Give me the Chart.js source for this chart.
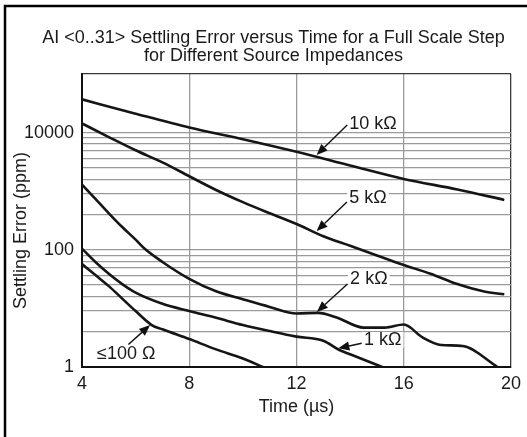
<html>
<head>
  <title>AI Settling Error</title>
  <script src="https://cdn.jsdelivr.net/npm/chart.js"></script>
  <style>
    body { margin: 0; background: #fff; }
    #wrap { width: 527px; height: 437px; }
  </style>
</head>
<body>
  <div id="wrap"><canvas id="myChart" width="527" height="437"></canvas></div>
  <script>
    // 各曲線的時間 (us) 與誤差 (ppm)
    const t10k = [4, 6, 8, 10, 12, 14, 16, 18, 19.75];
    const ppm10k = [37000, 21000, 12200, 7700, 4700, 2750, 1620, 1070, 710];

    const t5k = [4, 5, 6, 7, 8, 9, 10, 11, 12, 13, 14, 15, 16, 17, 18, 19, 19.75];
    const ppm5k = [14300, 8400, 5000, 3100, 1800, 1050, 650, 420, 276, 170, 117, 80, 55, 39, 26, 19.4, 17.4];

    const t2k = [4, 4.5, 5, 5.5, 6, 6.34, 7, 8, 9, 10, 11, 12, 12.8, 13.5, 14.5, 15.3, 16, 16.7, 17.4, 18.2, 19.5];
    const ppm2k = [1300, 740, 420, 245, 149, 104, 62, 32, 19.6, 14.3, 10.6, 8.2, 8.4, 7.0, 4.7, 4.7, 5.3, 3.2, 2.37, 2.28, 1.0];

    const t1k = [4, 4.5, 5, 5.5, 6, 7, 8, 9, 10, 11, 12, 13, 13.6, 14, 15.2];
    const ppm1k = [105, 62, 39, 26, 18.6, 12, 9, 6.9, 5.2, 4.1, 3.3, 2.8, 1.95, 1.65, 1.0];

    const t100 = [4, 4.5, 5, 5.5, 6, 6.6, 7, 8, 9, 10, 10.75];
    const ppm100 = [57, 37, 24, 14.7, 9.0, 5.2, 4.4, 3.0, 2.0, 1.4, 1.0];

    // 軸的刻度
    const xTicks = [4, 8, 12, 16, 20];
    const yGrid = [1, 4, 9, 16, 25, 36, 49, 64, 81, 100, 400, 900, 1600, 2500, 3600, 4900, 6400, 8100, 10000, 100000];
    const yLabels = [1, 100, 10000];

    // 曲線標籤與箭頭 (資料座標)
    const notes = [
      { text: '10 k\u03A9', tx: 13.97, ty: 14000, ax: 13.89, ay: 13500, px: 12.75, py: 4150 },
      { text: '5 k\u03A9', tx: 13.97, ty: 765, ax: 13.88, ay: 655, px: 12.75, py: 209 },
      { text: '2 k\u03A9', tx: 14.0, ty: 31.8, ax: 13.9, ay: 26, px: 12.76, py: 8.7 },
      { text: '1 k\u03A9', tx: 14.52, ty: 2.89, ax: 14.43, ay: 2.54, px: 13.56, py: 2.08 },
      { text: '\u2264100 \u03A9', tx: 4.56, ty: 1.67, ax: 5.73, ay: 2.42, px: 6.54, py: 5.2 }
    ];

    const FONT = "'Liberation Sans', Arial, Helvetica, sans-serif";
    const INK = '#1a1a1a';
    Chart.defaults.font.family = FONT;
    Chart.defaults.font.size = 18;
    Chart.defaults.color = INK;

    function series(ts, vs) {
      return {
        data: ts.map((t, i) => ({ x: t, y: vs[i] })),
        borderColor: '#151515',
        borderWidth: 2.6,
        pointRadius: 0,
        fill: false,
        cubicInterpolationMode: 'monotone'
      };
    }

    // 外框
    const framePlugin = {
      id: 'frame',
      beforeDraw(chart) {
        const ctx = chart.ctx;
        ctx.save();
        ctx.fillStyle = '#fff';
        ctx.fillRect(0, 0, chart.width, chart.height);
        ctx.strokeStyle = '#000';
        ctx.lineWidth = 2.5;
        ctx.beginPath();
        ctx.moveTo(5, chart.height);
        ctx.lineTo(5, 6);
        ctx.lineTo(chart.width, 6);
        ctx.stroke();
        ctx.restore();
      }
    };

    // 標籤與箭頭
    const notePlugin = {
      id: 'notes',
      afterDatasetsDraw(chart) {
        const ctx = chart.ctx;
        const xs = chart.scales.x, ys = chart.scales.y;
        ctx.save();
        ctx.font = '18px ' + FONT;
        notes.forEach(n => {
          const x0 = xs.getPixelForValue(n.ax), y0 = ys.getPixelForValue(n.ay);
          const x1 = xs.getPixelForValue(n.px), y1 = ys.getPixelForValue(n.py);
          const tx = xs.getPixelForValue(n.tx), ty = ys.getPixelForValue(n.ty);
          const w = ctx.measureText(n.text).width;
          ctx.fillStyle = '#fff';
          ctx.fillRect(tx - 2, ty - 8, w + 4, 16);
          ctx.fillStyle = INK;
          ctx.textAlign = 'left';
          ctx.textBaseline = 'middle';
          ctx.fillText(n.text, tx, ty);
          // 箭頭
          const ang = Math.atan2(y1 - y0, x1 - x0);
          const len = 11, half = 4.5;
          const bx = x1 - len * Math.cos(ang), by = y1 - len * Math.sin(ang);
          ctx.strokeStyle = '#111';
          ctx.lineWidth = 1.4;
          ctx.beginPath();
          ctx.moveTo(x0, y0);
          ctx.lineTo(bx, by);
          ctx.stroke();
          ctx.fillStyle = '#111';
          ctx.beginPath();
          ctx.moveTo(x1, y1);
          ctx.lineTo(bx + half * Math.sin(ang), by - half * Math.cos(ang));
          ctx.lineTo(bx - half * Math.sin(ang), by + half * Math.cos(ang));
          ctx.closePath();
          ctx.fill();
        });
        ctx.restore();
      }
    };

    const ctx = document.getElementById('myChart').getContext('2d');
    const myChart = new Chart(ctx, {
      type: 'line',
      data: {
        datasets: [
          series(t10k, ppm10k),
          series(t5k, ppm5k),
          series(t2k, ppm2k),
          series(t1k, ppm1k),
          series(t100, ppm100)
        ]
      },
      options: {
        responsive: false,
        animation: false,
        layout: { padding: { left: 20, right: 0, top: 0, bottom: 0 } },
        plugins: {
          legend: { display: false },
          tooltip: { enabled: false },
          title: {
            display: true,
            text: ['AI <0..31> Settling Error versus Time for a Full Scale Step',
                   'for Different Source Impedances'],
            color: INK,
            font: { size: 18, weight: 'normal', lineHeight: 1.0 },
            padding: { top: 29.5, bottom: 8.5 }
          }
        },
        scales: {
          x: {
            type: 'linear',
            min: 4,
            max: 20,
            afterBuildTicks: s => { s.ticks = xTicks.map(v => ({ value: v })); },
            afterFit: s => { s.height = 70; },
            ticks: { padding: 6, color: INK },
            grid: {
              color: c => (c.tick && c.tick.value === 20) ? '#3a3a3a' : '#9a9a9a',
              lineWidth: 1.3,
              drawTicks: false
            },
            border: { color: '#111', width: 2 },
            title: {
              display: true,
              text: 'Time (\u00B5s)',
              color: INK,
              padding: { top: 0, bottom: 19.5 }
            }
          },
          y: {
            type: 'logarithmic',
            min: 1,
            max: 100000,
            afterBuildTicks: s => { s.ticks = yGrid.map(v => ({ value: v })); },
            afterFit: s => { s.width = 62; },
            ticks: {
              autoSkip: false,
              padding: 8,
              color: INK,
              callback: v => yLabels.includes(v) ? String(v) : ''
            },
            grid: {
              color: c => (c.tick && c.tick.value === 100000) ? '#3a3a3a' : '#9a9a9a',
              lineWidth: 1.3,
              drawTicks: false
            },
            border: { color: '#111', width: 2 },
            title: {
              display: true,
              text: 'Settling Error (ppm)    ',
              color: INK,
              padding: { top: -9.8, bottom: 0 }
            }
          },
          // 右側留白
          yRight: {
            type: 'linear',
            position: 'right',
            afterFit: s => { s.width = 16; },
            ticks: { display: false },
            grid: { display: false, drawTicks: false },
            border: { display: false }
          }
        }
      },
      plugins: [framePlugin, notePlugin]
    });
  </script>
</body>
</html>
